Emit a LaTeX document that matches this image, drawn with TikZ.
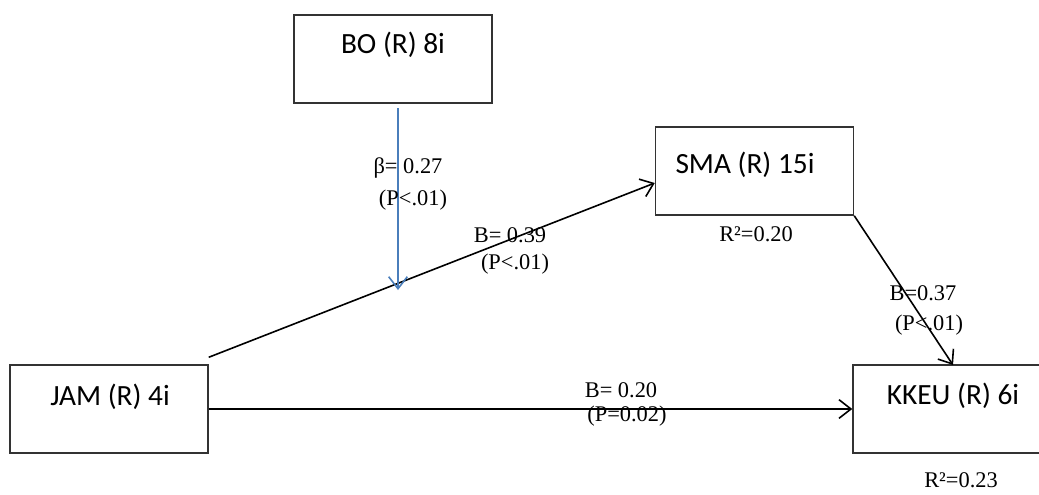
\documentclass[tikz,border=0pt]{standalone}
\usepackage{fontspec}
\setmainfont{Liberation Serif}
\newfontfamily\boxfont{Carlito}
\usetikzlibrary{arrows.meta,calc}
\definecolor{blueline}{RGB}{74,126,187}
\tikzset{
  varbox/.style={draw=black!80, line width=1.1pt, minimum width=148.5pt, minimum height=66pt, inner sep=0pt},
  boxtext/.style={font=\boxfont\fontsize{22}{24}\selectfont, inner sep=0pt},
  coef/.style={font=\fontsize{16.8}{19}\selectfont, inner sep=0pt},
  path/.style={draw=black, line width=1.2pt, -{Straight Barb[length=9pt,width=14pt,line width=1.2pt]}},
  modpath/.style={draw=blueline, line width=1.2pt, -{Straight Barb[length=9pt,width=14pt,line width=1.2pt]}}
}
\begin{document}
\begin{tikzpicture}[x=0.75pt,y=-0.75pt]
\clip (0,0) rectangle (1039,494);
\fill[white] (0,0) rectangle (1039,494);
% boxes
\node[varbox] (bo) at (393,59) {};
\node[varbox] (sma) at (754.5,171) {};
\node[varbox] (jam) at (109,409) {};
\node[varbox] (kkeu) at (952,409) {};
% box texts
\node[boxtext] (bot) at (393,45) {BO (R) 8i};
\node[boxtext] (smat) at (745,165) {SMA (R) 15i};
\node[boxtext] (jamt) at (110,397) {JAM (R) 4i};
\node[boxtext] (kkeut) at (953,396) {KKEU (R) 6i};
% coordinates
\coordinate (jamtop) at ($(jam.north east)+(0,-7)$);
\coordinate (smain) at ($(sma.west)+(0,12)$);
\coordinate (kkeuin) at (953,365);
\coordinate (bostart) at (398,108);
\coordinate (modend) at (398,290);
% connectors
\draw[path] (jamtop) -- (smain);
\draw[path] (jam.east) -- (kkeu.west);
\draw[path] (sma.south east) -- (kkeuin);
\draw[modpath] (bostart) -- (modend);
% labels
\node[coef] (l1) at (408,168) {β= 0.27};
\node[coef] (l2) at (413,200) {(P<.01)};
\node[coef] (l3) at (510,235) {B= 0.39};
\node[coef] (l4) at (515,264) {(P<.01)};
\node[coef] (l5) at (621,390) {B= 0.20};
\node[coef] (l6) at (627,416) {(P=0.02)};
\node[coef] (l7) at (923,293) {B=0.37};
\node[coef] (l8) at (929,325) {(P<.01)};
\node[coef] (r1) at (756,234) {R²=0.20};
\node[coef] (r2) at (961,480) {R²=0.23};
\end{tikzpicture}
\end{document}
